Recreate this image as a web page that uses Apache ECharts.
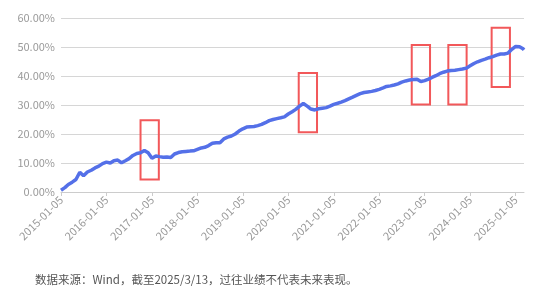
<!DOCTYPE html>
<html>
<head>
<meta charset="utf-8">
<script src="https://cdn.jsdelivr.net/npm/echarts@6/dist/echarts.min.js"></script>
<style>
  html, body { margin: 0; padding: 0; background: #fff; }
  #chart { width: 550px; height: 302px; }
</style>
</head>
<body>
<div id="chart"></div>
<script>
// Month-start observations (dated the 5th) plus the cut-off date
const dates = [];
for (let y = 2015; y <= 2025; y++) {
  for (let m = 1; m <= 12; m++) {
    if (y === 2025 && m > 3) break;
    dates.push(y + '-' + String(m).padStart(2, '0') + '-05');
  }
}
dates.push('2025-03-13');

// Cumulative return, %
const values = [
  0.6, 1.5, 2.6, 3.4, 4.3, 6.8, 5.6, 6.9, 7.5, 8.3, 8.9, 9.8,
  10.3, 10.0, 10.8, 11.0, 10.1, 10.8, 11.5, 12.6, 13.3, 13.5, 14.3, 13.5,
  11.6, 12.4, 12.2, 12.0, 12.1, 11.9, 13.1, 13.6, 13.9, 14.0, 14.1, 14.2,
  14.7, 15.2, 15.4, 16.0, 16.8, 17.0, 17.0, 18.3, 18.9, 19.3, 20.0, 21.0,
  21.8, 22.4, 22.5, 22.6, 22.9, 23.3, 23.9, 24.6, 25.0, 25.3, 25.6, 25.9,
  26.9, 27.7, 28.5, 29.6, 30.5, 29.6, 28.6, 28.3, 28.7, 28.9, 29.1, 29.6,
  30.2, 30.6, 31.0, 31.5, 32.1, 32.7, 33.3, 33.9, 34.3, 34.5, 34.7, 35.0,
  35.4, 35.9, 36.4, 36.6, 36.9, 37.3, 37.9, 38.3, 38.6, 38.8, 38.9, 38.1,
  38.4, 38.9, 39.5, 40.1, 40.8, 41.3, 41.7, 41.9, 42.0, 42.2, 42.4, 42.7,
  43.5, 44.3, 44.9, 45.4, 45.8, 46.3, 46.7, 47.2, 47.6, 47.6, 47.9, 49.2,
  50.2, 50.1, 49.4,
  49.0
];

// x-axis tick labels
const tickLabels = [
  '2015-01-05', '2016-01-05', '2017-01-05', '2018-01-05', '2019-01-05', '2020-01-05',
  '2021-01-05', '2022-01-05', '2023-01-05', '2024-01-05', '2025-01-05'
];

// Highlighted periods: date range and value range (%)
const boxStart = ['2016-10-05', '2020-03-29', '2022-09-23', '2023-07-14', '2024-06-26'];
const boxEnd   = ['2017-03-01', '2020-08-23', '2023-02-17', '2023-12-08', '2024-11-20'];
const boxLow   = [4.3, 20.6, 30.2, 30.2, 36.2];
const boxHigh  = [24.7, 41.0, 50.7, 50.7, 56.6];

const note = '数据来源：Wind，截至2025/3/13，过往业绩不代表未来表现。';

const FONT = '"Noto Sans CJK SC", "Noto Sans", sans-serif';
// dates are placed on a numeric axis as UTC millisecond stamps
const t = s => Date.parse(s + 'T00:00:00Z');
const pad = n => String(n).padStart(2, '0');
const fmt = v => {
  const d = new Date(v);
  return d.getUTCFullYear() + '-' + pad(d.getUTCMonth() + 1) + '-' + pad(d.getUTCDate());
};

const tickTimes = tickLabels.map(t);
const lineData = dates.map((d, i) => [t(d), values[i]]);
const areas = boxStart.map((s, i) => [
  { xAxis: t(s), yAxis: boxLow[i] },
  { xAxis: t(boxEnd[i]), yAxis: boxHigh[i] }
]);

const chart = echarts.init(document.getElementById('chart'), null, { renderer: 'canvas' });
chart.setOption({
  animation: false,
  grid: { left: 61, right: 26, top: 18, bottom: 110 },
  xAxis: {
    type: 'value',
    min: t(dates[0]),
    max: t(dates[dates.length - 1]),
    axisLine: { show: true, lineStyle: { color: '#cccccc', width: 1 } },
    axisTick: { show: true, customValues: tickTimes, length: 4, lineStyle: { color: '#cccccc' } },
    axisLabel: {
      customValues: tickTimes,
      rotate: 45,
      color: '#9a9a9a',
      fontSize: 11,
      fontFamily: FONT,
      margin: 6,
      formatter: v => fmt(v)
    },
    splitLine: { show: false }
  },
  yAxis: {
    type: 'value',
    min: 0,
    max: 60,
    interval: 10,
    axisLine: { show: false },
    axisTick: { show: false },
    axisLabel: {
      color: '#9a9a9a',
      fontSize: 11,
      fontFamily: FONT,
      margin: 6,
      formatter: v => v.toFixed(2) + '%'
    },
    splitLine: { lineStyle: { color: '#d6d6d6', width: 1 } }
  },
  series: [{
    type: 'line',
    data: lineData,
    showSymbol: false,
    lineStyle: { color: '#5470e8', width: 3.5 },
    itemStyle: { color: '#5470e8' },
    markArea: {
      silent: true,
      itemStyle: { color: 'rgba(0,0,0,0)', borderColor: '#f2585a', borderWidth: 2 },
      data: areas
    }
  }],
  graphic: [{
    type: 'text',
    left: 35,
    top: 274,
    style: { text: note, fill: '#555555', font: '11.5px ' + FONT }
  }]
});
</script>
</body>
</html>
